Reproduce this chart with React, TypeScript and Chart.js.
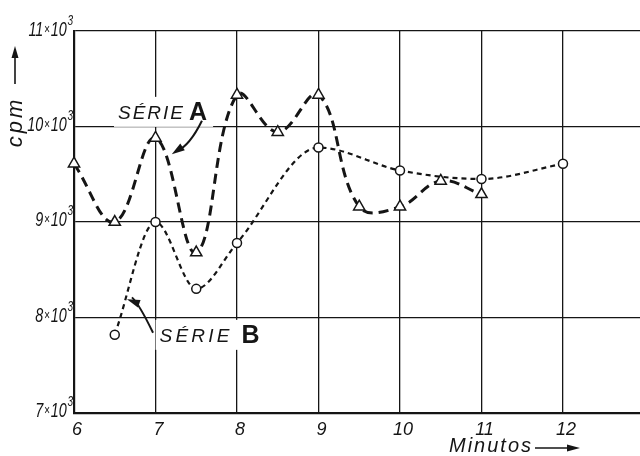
import React, { useEffect, useRef } from "react";
import { Chart, registerables } from "chart.js";

Chart.register(...registerables);

// ---- data ----
const minutesA = [6, 6.5, 7, 7.5, 8, 8.5, 9, 9.5, 10, 10.5, 11];
const cpmA = [9610, 9000, 9880, 8680, 10330, 9940, 10330, 9160, 9160, 9430, 9290];
const minutesB = [6.5, 7, 7.5, 8, 9, 10, 11, 12];
const cpmB = [7820, 9000, 8300, 8780, 9780, 9540, 9450, 9610];
const xTicks = [6, 7, 8, 9, 10, 11, 12];
const yTicks = [7000, 8000, 9000, 10000, 11000];
const yTickMantissas = ["7", "8", "9", "10", "11"];
const yTickExponent = "3";
const seriesNames = ["SÉRIE", "A", "B"];
const xTitle = "Minutos";
const yTitle = "cpm";

const FONT = '"Liberation Sans", "DejaVu Sans", sans-serif';
const INK = "#151515";

function arrowHead(ctx: CanvasRenderingContext2D, x: number, y: number, fromX: number, fromY: number, len: number, wid: number) {
  const a = Math.atan2(y - fromY, x - fromX);
  ctx.beginPath();
  ctx.moveTo(x, y);
  ctx.lineTo(x - len * Math.cos(a) + wid * Math.sin(a), y - len * Math.sin(a) - wid * Math.cos(a));
  ctx.lineTo(x - len * Math.cos(a) - wid * Math.sin(a), y - len * Math.sin(a) + wid * Math.cos(a));
  ctx.closePath();
  ctx.fill();
}

function drawLabel(ctx: CanvasRenderingContext2D, x: number, y: number, letter: string, spacing: number, gap: number) {
  const c: any = ctx;
  ctx.font = `italic 19px ${FONT}`;
  c.letterSpacing = `${spacing}px`;
  const w1 = ctx.measureText(seriesNames[0]).width;
  c.letterSpacing = "0px";
  ctx.font = `bold 25px ${FONT}`;
  const w2 = ctx.measureText(letter).width;
  ctx.fillStyle = "#fff";
  ctx.fillRect(x - 4, y - 22, w1 + w2 + gap + 10, 30);
  ctx.fillStyle = INK;
  ctx.textBaseline = "alphabetic";
  ctx.textAlign = "left";
  ctx.font = `italic 19px ${FONT}`;
  c.letterSpacing = `${spacing}px`;
  ctx.fillText(seriesNames[0], x, y);
  c.letterSpacing = "0px";
  ctx.font = `bold 25px ${FONT}`;
  ctx.fillText(letter, x + w1 + gap, y + 1);
}

const annotationPlugin = {
  id: "annot",
  afterDraw(chart: any) {
    const { ctx } = chart;
    const c: any = ctx;
    const xs = chart.scales.x;
    const ys = chart.scales.y;
    const px = (v: number) => xs.getPixelForValue(v);
    const py = (v: number) => ys.getPixelForValue(v);
    ctx.save();
    ctx.fillStyle = INK;
    ctx.strokeStyle = INK;

    // y tick labels  (n × 10³)
    yTicks.forEach((v, i) => {
      const base = py(v) + (i === yTicks.length - 1 ? 5 : 4);
      const m = yTickMantissas[i];
      ctx.save();
      const sx = 0.72;
      ctx.font = `italic 20px ${FONT}`;
      const wm = ctx.measureText(m).width;
      const wt = ctx.measureText("10").width;
      ctx.font = `italic 14px ${FONT}`;
      const wx = ctx.measureText("×").width;
      ctx.font = `italic 14px ${FONT}`;
      const we = ctx.measureText(yTickExponent).width;
      const total = (wm + wx + wt + we + 3) * sx;
      const right = 73;
      ctx.translate(right - total, base);
      ctx.scale(sx, 1);
      ctx.textBaseline = "alphabetic";
      ctx.textAlign = "left";
      let cx = 0;
      ctx.font = `italic 20px ${FONT}`;
      ctx.fillText(m, cx, 0);
      cx += wm + 1;
      ctx.font = `italic 14px ${FONT}`;
      ctx.fillText("×", cx, -2);
      cx += wx + 1;
      ctx.font = `italic 20px ${FONT}`;
      ctx.fillText("10", cx, 0);
      cx += wt + 1;
      ctx.font = `italic 14px ${FONT}`;
      ctx.fillText(yTickExponent, cx, -11);
      ctx.restore();
    });

    // SÉRIE A label + arrow
    drawLabel(ctx, px(6.54), py(10080), seriesNames[1], 2, 4);
    ctx.lineWidth = 2;
    ctx.beginPath();
    const a0x = px(7.57), a0y = py(10060);
    const a1x = px(7.2), a1y = py(9710);
    ctx.moveTo(a0x, a0y);
    ctx.quadraticCurveTo(px(7.42), py(9800), a1x + 5, a1y - 3);
    ctx.stroke();
    arrowHead(ctx, a1x, a1y, px(7.32), py(9780), 13, 4);

    // SÉRIE B label + arrow
    drawLabel(ctx, px(7.05), py(7745), seriesNames[2], 3.2, 9);
    ctx.lineWidth = 2;
    ctx.beginPath();
    const b0x = px(6.97), b0y = py(7840);
    const b1x = px(6.65), b1y = py(8190);
    ctx.moveTo(b0x, b0y);
    ctx.quadraticCurveTo(px(6.8), py(8140), b1x + 5, b1y - 2);
    ctx.stroke();
    arrowHead(ctx, b1x, b1y, px(6.78), py(8150), 13, 4);

    // y title: rotated "cpm" with arrow up
    ctx.save();
    ctx.translate(16, 122);
    ctx.rotate(-Math.PI / 2);
    ctx.font = `italic 22px ${FONT}`;
    c.letterSpacing = "3px";
    ctx.textAlign = "center";
    ctx.textBaseline = "middle";
    ctx.fillText(yTitle, 0, 0);
    c.letterSpacing = "0px";
    ctx.restore();
    ctx.lineWidth = 1.6;
    ctx.beginPath();
    ctx.moveTo(15, 84);
    ctx.lineTo(15, 56);
    ctx.stroke();
    arrowHead(ctx, 15, 46, 15, 60, 12, 3.5);

    // x title: "Minutos" with arrow right
    ctx.font = `italic 20px ${FONT}`;
    c.letterSpacing = "2px";
    ctx.textAlign = "left";
    ctx.textBaseline = "middle";
    ctx.fillText(xTitle, 449, 446);
    c.letterSpacing = "0px";
    ctx.lineWidth = 1.6;
    ctx.beginPath();
    ctx.moveTo(535, 448);
    ctx.lineTo(568, 448);
    ctx.stroke();
    arrowHead(ctx, 580, 448, 560, 448, 13, 3.5);

    ctx.restore();
  },
};

export default function App() {
  const ref = useRef<HTMLCanvasElement | null>(null);

  useEffect(() => {
    if (!ref.current) return;
    const chart = new Chart(ref.current, {
      type: "line",
      data: {
        datasets: [
          {
            label: "SÉRIE A",
            data: minutesA.map((m, i) => ({ x: m, y: cpmA[i] })),
            borderColor: INK,
            borderWidth: 3,
            borderDash: [10, 6],
            tension: 0.4,
            clip: false,
            pointStyle: "triangle",
            pointRadius: 6.5,
            pointBackgroundColor: "#fff",
            pointBorderColor: INK,
            pointBorderWidth: 1.5,
            fill: false,
          },
          {
            label: "SÉRIE B",
            data: minutesB.map((m, i) => ({ x: m, y: cpmB[i] })),
            borderColor: INK,
            borderWidth: 2.2,
            borderDash: [5, 4],
            cubicInterpolationMode: "monotone",
            clip: false,
            pointStyle: "circle",
            pointRadius: 4.5,
            pointBackgroundColor: "#fff",
            pointBorderColor: INK,
            pointBorderWidth: 1.5,
            fill: false,
          },
        ],
      },
      options: {
        animation: false,
        responsive: false,
        maintainAspectRatio: false,
        layout: { autoPadding: false, padding: { left: 0, top: 31, right: 0, bottom: 0 } },
        plugins: {
          legend: { display: false },
          tooltip: { enabled: false },
          title: { display: false },
        },
        scales: {
          x: {
            type: "linear",
            min: 6,
            max: 12.945,
            afterBuildTicks: (s: any) => {
              s.ticks = xTicks.map((v) => ({ value: v }));
            },
            afterFit: (s: any) => {
              s.height = 43;
              s.paddingLeft = 0;
              s.paddingRight = 0;
            },
            grid: { color: INK, lineWidth: 1.3, drawTicks: false },
            border: { color: INK, width: 2.2 },
            ticks: {
              color: INK,
              font: { family: FONT, size: 18, style: "italic" },
              padding: 6,
              labelOffset: 3,
              maxRotation: 0,
              autoSkip: false,
              callback: (v: any) => String(v),
            },
          },
          y: {
            type: "linear",
            min: 7000,
            max: 11000,
            afterBuildTicks: (s: any) => {
              s.ticks = yTicks.map((v) => ({ value: v }));
            },
            afterFit: (s: any) => {
              s.width = 74;
              s.paddingTop = 0;
              s.paddingBottom = 0;
            },
            grid: { color: INK, lineWidth: 1.3, drawTicks: false },
            border: { color: INK, width: 2.2 },
            ticks: { display: false },
          },
        },
      },
      plugins: [annotationPlugin],
    });
    return () => chart.destroy();
  }, []);

  return (
    <div style={{ position: "absolute", left: 0, top: 0, width: 640, height: 456, background: "#fff" }}>
      <canvas ref={ref} width={640} height={456} style={{ display: "block" }} />
    </div>
  );
}
